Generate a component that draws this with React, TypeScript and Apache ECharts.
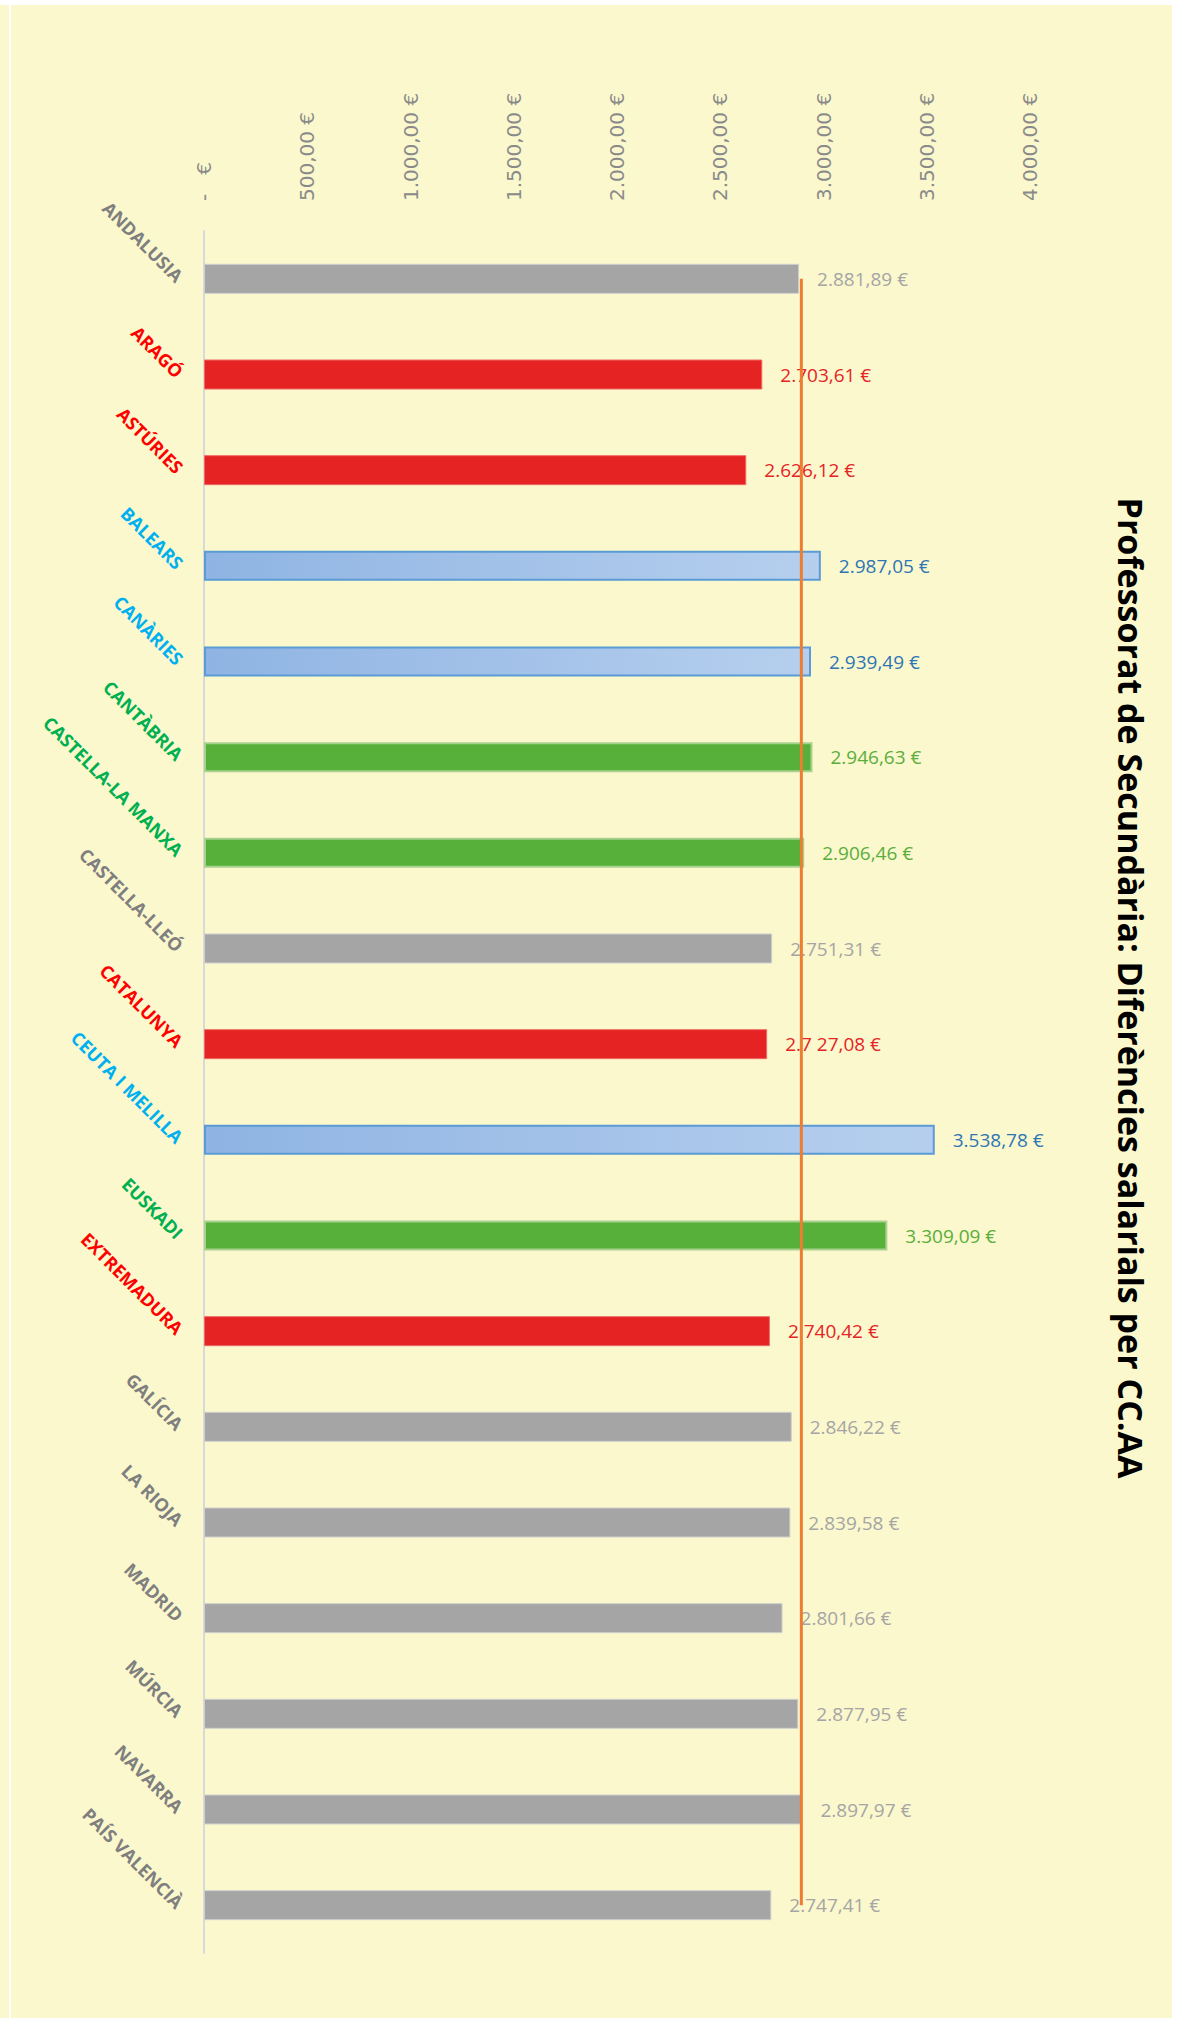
import React, { useEffect, useRef } from "react";
import * as echarts from "echarts";

const categories = [
  "ANDALUSIA", "ARAGÓ", "ASTÚRIES", "BALEARS", "CANÀRIES", "CANTÀBRIA",
  "CASTELLA-LA MANXA", "CASTELLA-LLEÓ", "CATALUNYA", "CEUTA I MELILLA",
  "EUSKADI", "EXTREMADURA", "GALÍCIA", "LA RIOJA", "MADRID", "MÚRCIA",
  "NAVARRA", "PAÍS VALENCIÀ",
];
const values = [
  2881.89, 2703.61, 2626.12, 2987.05, 2939.49, 2946.63, 2906.46, 2751.31,
  2727.08, 3538.78, 3309.09, 2740.42, 2846.22, 2839.58, 2801.66, 2877.95,
  2897.97, 2747.41,
];
const valueLabels = [
  "2.881,89 €", "2.703,61 €", "2.626,12 €", "2.987,05 €", "2.939,49 €",
  "2.946,63 €", "2.906,46 €", "2.751,31 €", "2.7 27,08 €", "3.538,78 €",
  "3.309,09 €", "2.740,42 €", "2.846,22 €", "2.839,58 €", "2.801,66 €",
  "2.877,95 €", "2.897,97 €", "2.747,41 €",
];
const groups = [
  "gray", "red", "red", "blue", "blue", "green", "green", "gray", "red",
  "blue", "green", "red", "gray", "gray", "gray", "gray", "gray", "gray",
];
const averageLine = [
  2892.7, 2892.7, 2892.7, 2892.7, 2892.7, 2892.7, 2892.7, 2892.7, 2892.7,
  2892.7, 2892.7, 2892.7, 2892.7, 2892.7, 2892.7, 2892.7, 2892.7, 2892.7,
];
const tickLabels = [
  "-   €", "500,00 €", "1.000,00 €", "1.500,00 €", "2.000,00 €",
  "2.500,00 €", "3.000,00 €", "3.500,00 €", "4.000,00 €",
];
const titleText = "Professorat de Secundària: Diferències salarials per CC.AA";

const catColor: Record<string, string> = {
  gray: "#7f7f7f",
  red: "#ff0000",
  blue: "#00b0f0",
  green: "#00b050",
};
const valColor: Record<string, string> = {
  gray: "#a5a5a5",
  red: "#e42426",
  blue: "#2e75b6",
  green: "#5aae3c",
};

function barStyle(g: string) {
  if (g === "gray") return { color: "#a5a5a5", borderColor: "#cfcfcf", borderWidth: 1 };
  if (g === "red") return { color: "#e42322", borderColor: "#ee6a66", borderWidth: 1 };
  if (g === "green") return { color: "#56b03a", borderColor: "#a9d18e", borderWidth: 2 };
  return {
    color: new echarts.graphic.LinearGradient(0, 0, 1, 0, [
      { offset: 0, color: "#8fb4e3" },
      { offset: 1, color: "#b6cfee" },
    ]),
    borderColor: "#5b9bd5",
    borderWidth: 2,
  };
}

export default function App() {
  const ref = useRef<HTMLDivElement>(null);
  useEffect(() => {
    document.body.style.margin = "0";
    const chart = echarts.init(ref.current!, null, { renderer: "svg" });
    chart.setOption({
      animation: false,
      backgroundColor: "#fbf8cd",
      graphic: [
        {
          type: "line",
          shape: { x1: 10, y1: 0, x2: 10, y2: 2013 },
          style: { stroke: "#ffffff", lineWidth: 2 },
        },
        {
          type: "text",
          x: 1131,
          y: 983,
          rotation: -Math.PI / 2,
          style: {
            text: titleText,
            font: "bold 34px 'Open Sans'",
            fill: "#000000",
            textAlign: "center",
            textVerticalAlign: "middle",
          },
        },
      ],
      grid: { left: 204, top: 226, width: 826, height: 1722 },
      xAxis: {
        type: "value",
        position: "top",
        min: 0,
        max: 4000,
        interval: 500,
        axisLine: { show: false },
        axisTick: { show: false },
        splitLine: { show: false },
        axisLabel: {
          rotate: -90,
          margin: 30,
          color: "#8a8a8a",
          fontFamily: "DejaVu Sans",
          fontSize: 20,
          formatter: (v: number) => tickLabels[Math.round(v / 500)],
        },
      },
      yAxis: {
        type: "category",
        inverse: true,
        data: categories.map((c, i) => ({
          value: c,
          textStyle: { color: catColor[groups[i]] },
        })),
        axisLine: { lineStyle: { color: "#d9d9d9", width: 2 } },
        axisTick: { show: false },
        axisLabel: {
          rotate: -45,
          margin: 24,
          fontWeight: "bold",
          fontSize: 18,
          fontFamily: "Open Sans",
        },
      },
      series: [
        {
          type: "bar",
          barWidth: 30,
          data: values.map((v, i) => ({
            value: v,
            itemStyle: barStyle(groups[i]),
            label: { color: valColor[groups[i]] },
          })),
          label: {
            show: true,
            position: "right",
            distance: 18,
            fontFamily: "Open Sans",
            fontSize: 19,
            formatter: (p: any) => valueLabels[p.dataIndex],
          },
        },
        {
          type: "line",
          data: averageLine,
          symbol: "none",
          lineStyle: { color: "#ed7d31", width: 3 },
          z: 10,
        },
      ],
    });
    return () => chart.dispose();
  }, []);
  return (
    <div style={{ position: "relative", width: 1179, height: 2018, background: "#ffffff" }}>
      <div
        ref={ref}
        style={{ position: "absolute", left: 0, top: 5, width: 1172, height: 2013 }}
      />
    </div>
  );
}
